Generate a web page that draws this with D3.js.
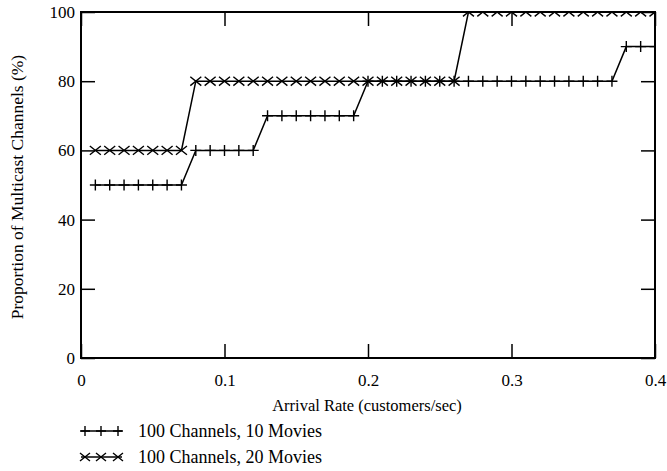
<!DOCTYPE html>
<html>
<head>
<meta charset="utf-8">
<script src="https://cdn.jsdelivr.net/npm/d3@7"></script>
<style>
  body { margin: 0; background: #fff; }
  .frame { fill: none; stroke: #000; stroke-width: 2; }
  .tick line { stroke: #000; stroke-width: 1.5; }
  .line { fill: none; stroke: #000; stroke-width: 1.5; }
  .mark { fill: none; stroke: #000; stroke-width: 1.4; }
</style>
</head>
<body>
<svg id="chart"></svg>
<script>
// arrival rate (customers/sec)
const rates = [0.01, 0.02, 0.03, 0.04, 0.05, 0.06, 0.07, 0.08, 0.09, 0.10,
               0.11, 0.12, 0.13, 0.14, 0.15, 0.16, 0.17, 0.18, 0.19, 0.20,
               0.21, 0.22, 0.23, 0.24, 0.25, 0.26, 0.27, 0.28, 0.29, 0.30,
               0.31, 0.32, 0.33, 0.34, 0.35, 0.36, 0.37, 0.38, 0.39, 0.40];

// proportion of multicast channels (%)
const movies10 = [50, 50, 50, 50, 50, 50, 50, 60, 60, 60,
                  60, 60, 70, 70, 70, 70, 70, 70, 70, 80,
                  80, 80, 80, 80, 80, 80, 80, 80, 80, 80,
                  80, 80, 80, 80, 80, 80, 80, 90, 90, 90];
const movies20 = [60, 60, 60, 60, 60, 60, 60, 80, 80, 80,
                  80, 80, 80, 80, 80, 80, 80, 80, 80, 80,
                  80, 80, 80, 80, 80, 80, 100, 100, 100, 100,
                  100, 100, 100, 100, 100, 100, 100, 100, 100, 100];

const seriesNames = ["100 Channels, 10 Movies", "100 Channels, 20 Movies"];
const xTicks = [0, 0.1, 0.2, 0.3, 0.4];
const yTicks = [0, 20, 40, 60, 80, 100];

const FONT = "Liberation Serif";

const width = 667, height = 471;
const margin = { top: 12, right: 12, bottom: 113, left: 81 },
      graphWidth  = width - margin.left - margin.right,
      graphHeight = height - margin.top - margin.bottom;

const svg = d3.select("#chart")
  .attr("width", width)
  .attr("height", height);

const g = svg.append("g")
  .attr("transform", `translate(${margin.left}, ${margin.top})`);

const xScale = d3.scaleLinear().domain([0, 0.4]).range([0, graphWidth]);
const yScale = d3.scaleLinear().domain([0, 100]).range([graphHeight, 0]);

const tickLen = 14;
const fmtX = d => d === 0 ? "0" : d3.format(".1f")(d);

// axes, ticks drawn inward on all four sides
g.append("g")
  .attr("transform", `translate(0, ${graphHeight})`)
  .call(d3.axisBottom(xScale).tickValues(xTicks).tickSizeInner(-tickLen).tickSizeOuter(0).tickPadding(16).tickFormat(fmtX))
  .call(a => a.select(".domain").remove())
  .call(a => a.attr("font-size", 17).selectAll("text").attr("font-family", FONT));

g.append("g")
  .call(d3.axisTop(xScale).tickValues(xTicks).tickSizeInner(-tickLen).tickSizeOuter(0).tickFormat(""))
  .call(a => a.select(".domain").remove());

g.append("g")
  .call(d3.axisLeft(yScale).tickValues(yTicks).tickSizeInner(-tickLen).tickSizeOuter(0).tickPadding(6))
  .call(a => a.select(".domain").remove())
  .call(a => a.attr("font-size", 17).selectAll("text").attr("font-family", FONT));

g.append("g")
  .attr("transform", `translate(${graphWidth}, 0)`)
  .call(d3.axisRight(yScale).tickValues(yTicks).tickSizeInner(-tickLen).tickSizeOuter(0).tickFormat(""))
  .call(a => a.select(".domain").remove());

// axis titles
svg.append("text")
  .attr("x", 367)
  .attr("y", 411)
  .attr("text-anchor", "middle")
  .attr("font-family", FONT)
  .attr("font-size", 16.5)
  .text("Arrival Rate (customers/sec)");

svg.append("text")
  .attr("transform", `translate(23, 187) rotate(-90)`)
  .attr("text-anchor", "middle")
  .attr("font-family", FONT)
  .attr("font-size", 17.5)
  .text("Proportion of Multicast Channels (%)");

// data
svg.append("defs").append("clipPath").attr("id", "plot-clip")
  .append("rect").attr("width", graphWidth).attr("height", graphHeight);

const plot = g.append("g").attr("clip-path", "url(#plot-clip)");

const line = d3.line()
  .x((d, i) => xScale(rates[i]))
  .y(d => yScale(d));

const plusPath = s => `M${-s},0H${s}M0,${-s}V${s}`;
const crossPath = s => `M${-s},${-s * 0.8}L${s},${s * 0.8}M${-s},${s * 0.8}L${s},${-s * 0.8}`;

const series = [
  { values: movies10, marker: plusPath(5.5) },
  { values: movies20, marker: crossPath(5.5) }
];

series.forEach(s => {
  plot.append("path")
    .datum(s.values)
    .attr("class", "line")
    .attr("d", line);

  plot.selectAll(null)
    .data(s.values)
    .enter()
    .append("path")
    .attr("class", "mark")
    .attr("transform", (d, i) => `translate(${xScale(rates[i])}, ${yScale(d)})`)
    .attr("d", s.marker);
});

// frame
g.append("rect")
  .attr("class", "frame")
  .attr("width", graphWidth)
  .attr("height", graphHeight);

// legend
const legend = svg.append("g").attr("transform", "translate(81, 431)");
series.forEach((s, k) => {
  const row = legend.append("g").attr("transform", `translate(0, ${k * 26})`);
  row.append("line")
    .attr("class", "line")
    .attr("x1", 0).attr("x2", 41);
  [4, 20, 37].forEach(x => {
    row.append("path")
      .attr("class", "mark")
      .attr("transform", `translate(${x}, 0)`)
      .attr("d", k === 0 ? plusPath(5) : crossPath(5));
  });
  row.append("text")
    .attr("x", 57)
    .attr("y", 6)
    .attr("font-family", FONT)
    .attr("font-size", 18)
    .text(seriesNames[k]);
});
</script>
</body>
</html>
